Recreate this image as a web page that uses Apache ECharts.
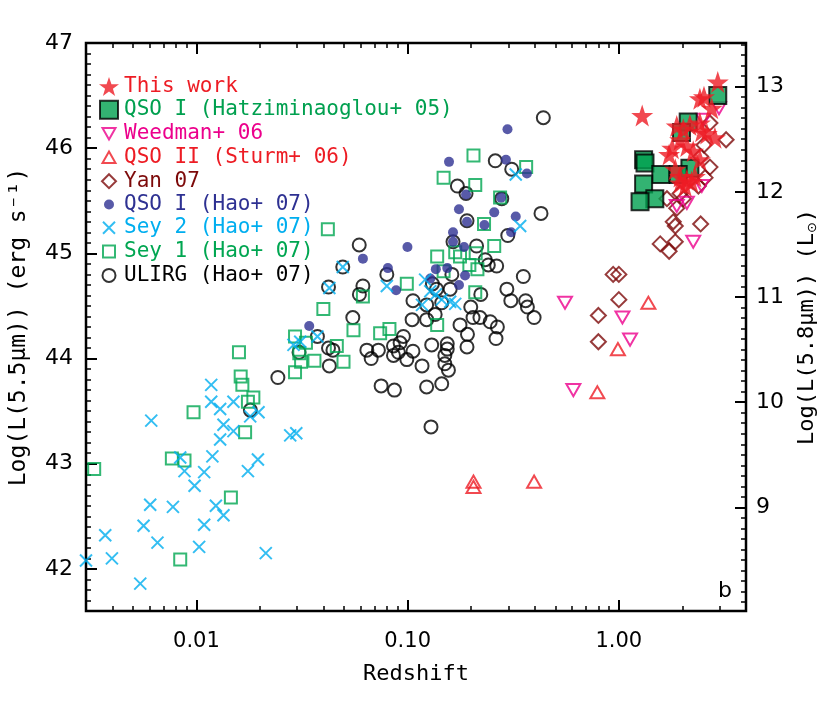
<!DOCTYPE html>
<html>
<head>
<meta charset="utf-8">
<script src="https://cdn.jsdelivr.net/npm/echarts@6/dist/echarts.min.js"></script>
<style>html,body{margin:0;background:#fff}#chart{width:830px;height:702px}</style>
</head>
<body>
<div id="chart"></div>
<script>
// [redshift, log L(5.5um)]
const thisWork = [[2.94,46.63],[1.29,46.31],[2.42,46.47],[2.53,46.49],[2.75,46.38],[1.88,46.21],[2.02,46.18],[2.42,46.24],[2.47,46.16],[2.61,46.14],[2.85,46.10],[1.95,46.08],[2.10,46.02],[2.25,45.97],[1.73,45.94],[1.85,45.80],[1.95,45.73],[2.10,45.70],[2.21,45.68],[2.06,45.64],[2.29,45.73],[1.95,45.67],[1.79,46.00],[2.42,45.89],[2.17,46.22]];
const qso1Hatz = [[2.94,46.50],[2.13,46.25],[1.98,46.15],[1.31,45.89],[1.33,45.86],[1.58,45.75],[1.31,45.66],[1.48,45.52],[1.26,45.49],[2.17,45.81],[1.91,45.75]];
const weedman = [[1.88,45.45],[2.10,45.48],[2.47,45.64],[2.25,45.11],[2.51,46.27],[2.98,46.38],[0.556,44.53],[1.04,44.39],[1.13,44.18],[0.609,43.70]];
const qso2Sturm = [[0.205,42.83],[0.205,42.78],[0.397,42.83],[0.791,43.68],[0.99,44.09],[1.38,44.53]];
const yan07 = [[3.22,46.08],[2.70,46.24],[2.53,46.03],[2.44,45.92],[2.70,45.82],[2.56,45.72],[2.38,45.64],[1.69,45.52],[1.95,45.57],[2.02,45.52],[1.88,45.43],[1.81,45.30],[1.85,45.26],[2.44,45.28],[1.85,45.11],[1.57,45.09],[1.73,45.02],[0.94,44.80],[1.0,44.80],[1.0,44.56],[0.80,44.41],[0.80,44.16]];
const qso1Hao = [[0.297,46.18],[0.292,45.89],[0.157,45.87],[0.367,45.76],[0.189,45.56],[0.277,45.53],[0.175,45.42],[0.257,45.39],[0.191,45.30],[0.231,45.27],[0.325,45.35],[0.309,45.20],[0.164,45.20],[0.164,45.11],[0.0998,45.06],[0.185,45.06],[0.0614,44.95],[0.0806,44.86],[0.136,44.85],[0.154,44.86],[0.187,44.79],[0.175,44.70],[0.0882,44.65],[0.0342,44.31],[0.128,44.76]];
const sey2Hao = [[0.0426,44.67],[0.0288,44.13],[0.031,44.16],[0.0374,44.21],[0.01175,43.75],[0.01175,43.59],[0.01295,43.52],[0.01497,43.59],[0.01797,43.45],[0.01968,43.49],[0.00611,43.41],[0.01343,43.37],[0.01497,43.31],[0.01295,43.23],[0.0278,43.27],[0.0297,43.29],[0.00838,43.06],[0.0119,43.07],[0.00878,42.93],[0.01088,42.92],[0.01753,42.93],[0.01955,43.04],[0.0098,42.79],[0.00604,42.61],[0.00774,42.59],[0.01236,42.60],[0.01343,42.51],[0.00562,42.41],[0.00654,42.25],[0.01088,42.42],[0.0103,42.21],[0.0037,42.32],[0.00398,42.10],[0.0213,42.15],[0.00542,41.86],[0.003,42.08],[0.0493,44.87],[0.325,45.75],[0.341,45.26],[0.0797,44.69],[0.121,44.75],[0.128,44.64],[0.136,44.61],[0.145,44.56],[0.117,44.51],[0.168,44.52],[0.159,44.54]];
const sey1Hao = [[0.0614,44.59],[0.0399,44.47],[0.0293,44.21],[0.033,44.15],[0.0554,44.27],[0.0741,44.24],[0.0462,44.12],[0.0307,44.05],[0.0313,43.97],[0.0362,43.98],[0.0497,43.97],[0.0293,43.87],[0.0159,44.06],[0.0162,43.83],[0.0165,43.75],[0.0186,43.63],[0.01753,43.59],[0.00969,43.49],[0.017,43.30],[0.00765,43.05],[0.00878,43.03],[0.00328,42.95],[0.01456,42.68],[0.00838,42.09],[0.0419,45.23],[0.205,45.93],[0.364,45.82],[0.148,45.72],[0.209,45.65],[0.274,45.53],[0.230,45.28],[0.257,45.07],[0.138,44.97],[0.168,45.01],[0.177,44.97],[0.210,45.00],[0.196,44.89],[0.214,44.85],[0.148,44.83],[0.0991,44.71],[0.209,44.63],[0.138,44.32],[0.082,44.28]];
const ulirgHao = [[0.439,46.29],[0.260,45.88],[0.311,45.80],[0.172,45.64],[0.189,45.57],[0.279,45.52],[0.428,45.38],[0.191,45.31],[0.298,45.17],[0.164,45.11],[0.212,45.07],[0.059,45.08],[0.0614,44.69],[0.0591,44.61],[0.055,44.39],[0.0374,44.21],[0.0422,44.10],[0.0443,44.08],[0.0306,44.06],[0.0641,44.08],[0.0672,44.00],[0.0426,43.93],[0.0243,43.82],[0.018,43.51],[0.0749,43.74],[0.0493,44.87],[0.0422,44.68],[0.233,44.94],[0.241,44.89],[0.264,44.88],[0.353,44.78],[0.295,44.66],[0.308,44.55],[0.362,44.55],[0.369,44.49],[0.397,44.39],[0.222,44.61],[0.199,44.49],[0.204,44.39],[0.220,44.39],[0.246,44.35],[0.266,44.30],[0.177,44.32],[0.192,44.23],[0.191,44.11],[0.262,44.19],[0.105,44.37],[0.106,44.55],[0.123,44.37],[0.130,44.13],[0.154,44.14],[0.154,44.09],[0.150,44.03],[0.150,43.95],[0.156,43.89],[0.117,43.93],[0.0991,43.99],[0.106,44.07],[0.0904,44.06],[0.0857,44.03],[0.0955,44.21],[0.0921,44.15],[0.0727,44.08],[0.0866,43.70],[0.123,43.73],[0.145,43.76],[0.129,43.35],[0.0797,44.80],[0.123,44.51],[0.145,44.53],[0.137,44.66],[0.159,44.66],[0.135,44.42],[0.162,44.80],[0.131,44.71],[0.0857,44.12]];

const xMajorTicks = [0.01, 0.1, 1];
const xTickLabels = ['0.01', '0.10', '1.00'];
const yMajorTicks = [42, 43, 44, 45, 46, 47];
const rightMajorTicks = [9, 10, 11, 12, 13];

const Z_MIN = 0.003, Z_MAX = 4;
const L_MIN = 41.6, L_MAX = 47;
const SUN_OFFSET = 33.585; // log L(5.8um)/Lsun = log L(5.5um) - offset

const STAR = 'path://M50,0L61.8,35.1L98.1,35.1L68.8,56.8L79.4,91L50,70L20.6,91L31.2,56.8L1.9,35.1L38.2,35.1Z';
const TRI_DOWN = 'path://M0,0L10,0L5,8.66Z';
const TRI_UP = 'path://M5,0L10,8.66L0,8.66Z';
const CROSS = 'path://M0,0L10,10M10,0L0,10';

// legend icons in a 20x20 box (the leading moves keep the box so small marks stay small)
const BOX = 'path://M0,0M20,20';
const legendIcons = [
    STAR,
    BOX + 'M1,1L19,1L19,19L1,19Z',
    BOX + 'M3.5,4.5L16.5,4.5L10,15.8Z',
    BOX + 'M10,4.2L16.5,15.5L3.5,15.5Z',
    BOX + 'M10,3L17,10L10,17L3,10Z',
    BOX + 'M5,10A5,5,0,1,0,15,10A5,5,0,1,0,5,10Z',
    BOX + 'M4,4L16,16M16,4L4,16',
    BOX + 'M4,4L16,4L16,16L4,16Z',
    BOX + 'M3.5,10A6.5,6.5,0,1,0,16.5,10A6.5,6.5,0,1,0,3.5,10Z'
];

function toLog(points) {
    return points.map(p => [Math.log10(p[0]), p[1]]);
}

let xMinor = [];
for (let n = -3; n <= 0; n++) {
    for (let k = 2; k <= 9; k++) {
        let v = k * Math.pow(10, n);
        if (v > Z_MIN * 1.001 && v < Z_MAX * 0.999) xMinor.push(Math.log10(v));
    }
}
function minorSteps(lo, hi) {
    let out = [];
    for (let i = Math.ceil(lo * 10 + 1e-6); i <= Math.floor(hi * 10 - 1e-6); i++) {
        if (i % 10 !== 0) out.push(i / 10);
    }
    return out;
}
const yMinor = minorSteps(L_MIN, L_MAX);
const rMinor = minorSteps(L_MIN - SUN_OFFSET, L_MAX - SUN_OFFSET);

const tickFont = 'DejaVu Sans';

function xAxisDef(pos, ticks, len, withLabels) {
    return {
        type: 'value', position: pos,
        min: Math.log10(Z_MIN), max: Math.log10(Z_MAX),
        axisLine: {show: false, onZero: false}, splitLine: {show: false},
        axisTick: {show: true, inside: true, length: len, customValues: ticks, lineStyle: {color: '#000', width: len > 8 ? 2 : 1.5}},
        axisLabel: withLabels ? {
            show: true, margin: 20, color: '#000', fontFamily: tickFont, fontSize: 21,
            customValues: xMajorTicks.map(Math.log10),
            formatter: function (v) {
                let i = xMajorTicks.findIndex(t => Math.abs(Math.log10(t) - v) < 1e-6);
                return i >= 0 ? xTickLabels[i] : '';
            }
        } : {show: false},
        name: withLabels ? 'Redshift' : '',
        nameLocation: 'middle', nameGap: 52,
        nameTextStyle: {fontFamily: 'DejaVu Sans Mono', fontSize: 22, color: '#000'}
    };
}

function yAxisDef(pos, lo, hi, ticks, len, labelVals, name) {
    return {
        type: 'value', position: pos, min: lo, max: hi,
        axisLine: {show: false, onZero: false}, splitLine: {show: false},
        axisTick: {show: true, inside: true, length: len, customValues: ticks, lineStyle: {color: '#000', width: len > 8 ? 2 : 1.5}},
        axisLabel: labelVals ? {
            show: true, margin: pos === 'left' ? 13 : 10, color: '#000', fontFamily: tickFont, fontSize: 22,
            customValues: labelVals, formatter: v => v.toFixed(0)
        } : {show: false},
        name: name || '',
        nameLocation: 'middle', nameRotate: 90,
        nameGap: pos === 'left' ? 55 : 50,
        nameTextStyle: {
            fontFamily: 'DejaVu Sans Mono', fontSize: pos === 'left' ? 23 : 22, color: '#000',
            rich: {s: {fontFamily: 'DejaVu Sans', fontSize: 13, verticalAlign: 'bottom', padding: [10, 0, 0, 0]}}
        }
    };
}

const legendNames = ['This work', 'QSO I (Hatziminaoglou+ 05)', 'Weedman+ 06', 'QSO II (Sturm+ 06)', 'Yan 07',
    'QSO I (Hao+ 07)', 'Sey 2 (Hao+ 07)', 'Sey 1 (Hao+ 07)', 'ULIRG (Hao+ 07)'];
const legendColors = ['#ed1c24', '#00a04f', '#ec008c', '#ed1c24', '#7d0a0a', '#2e3192', '#00aeef', '#00a651', '#000000'];

function hollow(name, data, symbol, size, color) {
    return {
        name: name, type: 'scatter', data: toLog(data), symbol: symbol, symbolSize: size, symbolKeepAspect: true,
        itemStyle: {color: 'rgba(0,0,0,0)', borderColor: color, borderWidth: 2}
    };
}

const series = [
    hollow('ULIRG (Hao+ 07)', ulirgHao, 'circle', 13, '#000000'),
    hollow('Sey 1 (Hao+ 07)', sey1Hao, 'rect', 12, '#00a651'),
    {name: 'QSO I (Hao+ 07)', type: 'scatter', data: toLog(qso1Hao), symbol: 'circle', symbolSize: 10, itemStyle: {color: '#2e3192'}},
    hollow('Sey 2 (Hao+ 07)', sey2Hao, CROSS, 12, '#00aeef'),
    hollow('Yan 07', yan07, 'diamond', 15, '#7d0a0a'),
    hollow('Weedman+ 06', weedman, TRI_DOWN, 14, '#ec008c'),
    hollow('QSO II (Sturm+ 06)', qso2Sturm, TRI_UP, 14, '#ed1c24'),
    {name: 'QSO I (Hatziminaoglou+ 05)', type: 'scatter', data: toLog(qso1Hatz), symbol: 'rect', symbolSize: 17, itemStyle: {color: '#00a04f', borderColor: '#000', borderWidth: 2}},
    {name: 'This work', type: 'scatter', data: toLog(thisWork), symbol: STAR, symbolSize: 22, itemStyle: {color: '#ed1c24'}}
];

const chart = echarts.init(document.getElementById('chart'), null, {renderer: 'canvas'});
chart.setOption({
    animation: false,
    backgroundColor: '#fff',
    grid: {left: 86, right: 84, top: 43, bottom: 91, show: true, borderColor: '#000', borderWidth: 2.5, backgroundColor: 'transparent'},
    xAxis: [
        xAxisDef('bottom', xMajorTicks.map(Math.log10), 11, true),
        xAxisDef('bottom', xMinor, 5, false),
        xAxisDef('top', xMajorTicks.map(Math.log10), 11, false),
        xAxisDef('top', xMinor, 5, false)
    ],
    yAxis: [
        yAxisDef('left', L_MIN, L_MAX, yMajorTicks, 11, yMajorTicks, 'Log(L(5.5μm)) (erg s⁻¹)'),
        yAxisDef('left', L_MIN, L_MAX, yMinor, 5, null),
        yAxisDef('right', L_MIN - SUN_OFFSET, L_MAX - SUN_OFFSET, rightMajorTicks, 11, rightMajorTicks, 'Log(L(5.8μm)) (L{s|⊙})'),
        yAxisDef('right', L_MIN - SUN_OFFSET, L_MAX - SUN_OFFSET, rMinor, 5, null)
    ],
    legend: {
        orient: 'vertical', left: 93, top: 71, itemWidth: 20, itemHeight: 20, itemGap: 1.8,
        selectedMode: false,
        textStyle: {fontFamily: 'DejaVu Sans Mono', fontSize: 21},
        data: legendNames.map((n, i) => ({name: n, icon: legendIcons[i], textStyle: {color: legendColors[i]}}))
    },
    graphic: [{type: 'text', left: 718, top: 580, style: {text: 'b', font: '22px DejaVu Sans', fill: '#000'}}],
    series: series
});
</script>
</body>
</html>
